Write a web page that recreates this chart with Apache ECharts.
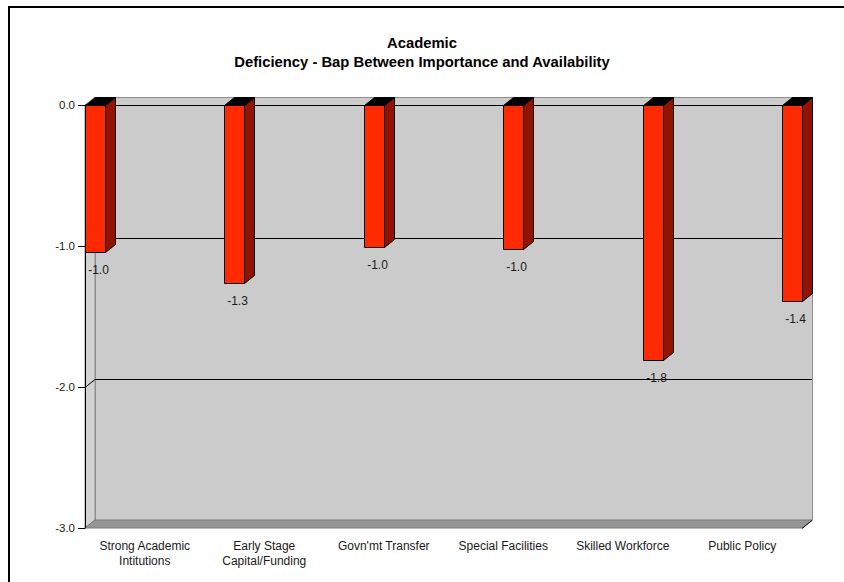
<!DOCTYPE html>
<html>
<head>
<meta charset="utf-8">
<title>Academic – Deficiency</title>
<script src="https://cdn.jsdelivr.net/npm/echarts@6/dist/echarts.min.js"></script>
<style>
  html, body { margin: 0; padding: 0; background: #ffffff; overflow: hidden; }
  #chart { width: 844px; height: 582px; }
</style>
</head>
<body>
<div id="chart"></div>
<script>
// ---- data ----
const titleLines = ['Academic', 'Deficiency - Bap Between Importance and Availability'];
const categories = [
  'Strong Academic\nIntitutions',
  'Early Stage\nCapital/Funding',
  "Govn'mt Transfer",
  'Special Facilities',
  'Skilled Workforce',
  'Public Policy'
];
const gapValues = [-1.04, -1.26, -1.01, -1.02, -1.81, -1.39];
const gridValues = [-1, -2];
const yMin = -3, yMax = 0, yStep = 1;

// ---- 3D look ----
const DX = 10, DY = -8;          // depth offset of the back plane
const BAR_W = 20;
const FRONT = '#ff2a00', SIDE = '#921400', TOP = '#000000';
const FONT = 'Arial, "Liberation Sans", sans-serif';

function renderWalls(params, api) {
  const cs = params.coordSys;
  const x0 = cs.x, x1 = cs.x + cs.width;
  const yT = cs.y, yB = cs.y + cs.height;
  const kids = [];
  // back wall
  kids.push({ type: 'rect', shape: { x: x0 + DX + 0.5, y: yT + DY + 0.5, width: cs.width, height: cs.height },
    style: { fill: '#cbcbcb', stroke: '#8e8e8e', lineWidth: 1 } });
  // left side wall
  kids.push({ type: 'polygon', shape: { points: [[x0, yT], [x0 + DX, yT + DY], [x0 + DX, yB + DY], [x0, yB]] },
    style: { fill: '#d2d2d2', stroke: '#8e8e8e', lineWidth: 1 } });
  // floor
  kids.push({ type: 'polygon', shape: { points: [[x0, yB], [x0 + DX, yB + DY], [x1 + DX, yB + DY], [x1, yB]] },
    style: { fill: '#969696', stroke: '#7a7a7a', lineWidth: 1 } });
  // gridlines on back wall + diagonals on side wall
  gridValues.forEach(v => {
    const y = Math.round(api.coord([0, v])[1]) + 0.5;
    kids.push({ type: 'line', shape: { x1: x0 + DX, y1: y + DY, x2: x1 + DX, y2: y + DY },
      style: { stroke: '#000', lineWidth: 1 } });
    kids.push({ type: 'line', shape: { x1: x0, y1: y, x2: x0 + DX, y2: y + DY },
      style: { stroke: '#000', lineWidth: 1 } });
  });
  // floor right edge
  kids.push({ type: 'line', shape: { x1: x1, y1: yB + 0.5, x2: x1 + DX, y2: yB + DY + 0.5 },
    style: { stroke: '#000', lineWidth: 1 } });
  return { type: 'group', children: kids };
}

function renderBar(params, api) {
  const i = api.value(0), v = api.value(1);
  const pTop = api.coord([i, 0]);
  const pBot = api.coord([i, v]);
  const c = Math.round(pTop[0]) + 0.5;
  const yt = Math.round(pTop[1]) + 0.5, yb = Math.round(pBot[1]) + 0.5;
  const h = BAR_W / 2;
  return {
    type: 'group',
    children: [
      { type: 'polygon', shape: { points: [[c + h, yt], [c + h + DX, yt + DY], [c + h + DX, yb + DY], [c + h, yb]] },
        style: { fill: SIDE, stroke: '#000', lineWidth: 1 } },
      { type: 'polygon', shape: { points: [[c - h, yt], [c - h + DX, yt + DY], [c + h + DX, yt + DY], [c + h, yt]] },
        style: { fill: TOP, stroke: '#000', lineWidth: 1 } },
      { type: 'rect', shape: { x: c - h, y: yt, width: BAR_W, height: yb - yt },
        style: { fill: FRONT, stroke: '#000', lineWidth: 1 } },
      { type: 'text', x: c + 3, y: yb + 17,
        style: { text: v.toFixed(1), align: 'center', verticalAlign: 'middle',
          fontSize: 12, fontFamily: FONT, fill: '#1a1a1a' } }
    ]
  };
}

const chart = echarts.init(document.getElementById('chart'), null, { renderer: 'svg' });
chart.setOption({
  animation: false,
  backgroundColor: '#ffffff',
  title: {
    text: titleLines.join('\n'),
    left: 'center',
    top: 28,
    textStyle: { fontFamily: FONT, fontSize: 14.8, fontWeight: 'bold', color: '#000', lineHeight: 19 }
  },
  graphic: [{
    type: 'rect', silent: true,
    shape: { x: 9, y: 7, width: 1000, height: 800 },
    style: { fill: 'none', stroke: '#000', lineWidth: 2 }
  }],
  grid: [
    { left: 85, right: 42, top: 105, bottom: 54 },   // front plane
    { left: 95, right: 52, top: 105, bottom: 54 }    // bar positions
  ],
  xAxis: [
    {
      type: 'category', gridIndex: 0, data: categories, z: 2,
      axisLine: { lineStyle: { color: '#000', width: 1 } },
      axisTick: { show: false },
      axisLabel: { interval: 0, margin: 10, fontSize: 12, lineHeight: 15, fontFamily: FONT, color: '#1a1a1a' },
      splitLine: { show: false }
    },
    {
      type: 'category', gridIndex: 1, data: categories, boundaryGap: false, show: false
    }
  ],
  yAxis: [
    {
      type: 'value', gridIndex: 0, min: yMin, max: yMax, interval: yStep, z: 2,
      axisLine: { show: true, lineStyle: { color: '#000', width: 1 } },
      axisTick: { show: true, length: 7, lineStyle: { color: '#000' } },
      axisLabel: { margin: 10, fontSize: 11.5, fontFamily: FONT, color: '#1a1a1a',
        formatter: v => v.toFixed(1) },
      splitLine: { show: false }
    },
    {
      type: 'value', gridIndex: 1, min: yMin, max: yMax, interval: yStep, show: false
    }
  ],
  series: [
    {
      type: 'custom', name: 'walls', xAxisIndex: 0, yAxisIndex: 0, z: 1, silent: true, clip: false,
      renderItem: renderWalls, data: [[0, 0]]
    },
    {
      type: 'custom', name: 'Deficiency', xAxisIndex: 1, yAxisIndex: 1, z: 3, clip: false,
      renderItem: renderBar, data: gapValues.map((v, i) => [i, v])
    }
  ]
});
</script>
</body>
</html>
